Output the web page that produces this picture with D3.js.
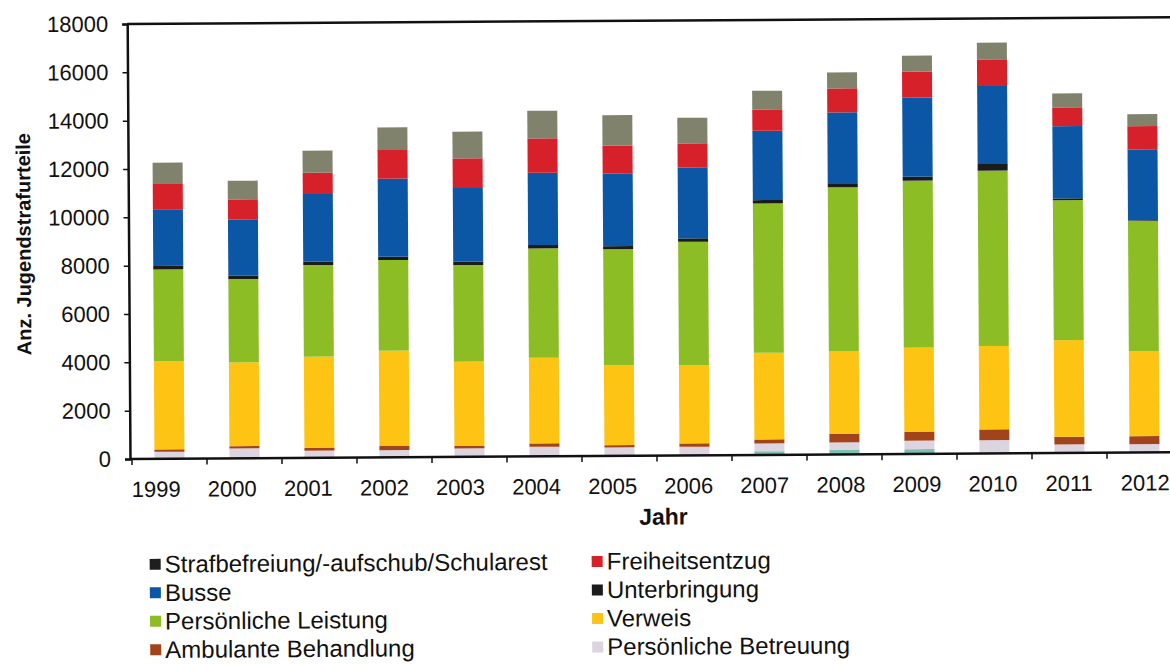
<!DOCTYPE html>
<html>
<head>
<meta charset="utf-8">
<script src="https://cdn.jsdelivr.net/npm/d3@7"></script>
<style>
  body { margin: 0; background: #fff; }
  text { font-family: "Liberation Sans", Arial, sans-serif; fill: #111; }
</style>
</head>
<body>
<script>
const largura = 1170;
const altura = 664;

// dados
const anos = ["1999","2000","2001","2002","2003","2004","2005","2006","2007","2008","2009","2010","2011","2012"];
const weitere      = [0, 0, 0, 0, 0, 0, 0, 0, 150, 200, 200, 0, 0, 0];
const betreuung    = [290, 410, 293, 300, 350, 397, 350, 356, 326, 301, 346, 554, 356, 348];
const ambulant     = [100, 95, 124, 168, 97, 141, 97, 141, 165, 343, 373, 443, 314, 331];
const verweis      = [3655, 3465, 3766, 3943, 3488, 3542, 3310, 3240, 3584, 3435, 3476, 3447, 4002, 3517];
const leistung     = [3795, 3447, 3794, 3753, 4002, 4527, 4800, 5102, 6182, 6774, 6910, 7254, 5793, 5391];
const unterbringung = [137, 137, 137, 137, 136, 137, 125, 141, 137, 136, 166, 277, 70, 30];
const busse        = [2346, 2334, 2801, 3227, 3050, 2991, 3008, 2938, 2867, 2967, 3269, 3228, 2992, 2925];
const freiheit     = [1076, 827, 882, 1188, 1229, 1424, 1142, 993, 886, 993, 1075, 1105, 774, 964];
const strafbefreiung = [852, 770, 910, 939, 1101, 1142, 1270, 1059, 770, 662, 663, 687, 579, 497];

const yTicks = [0, 2000, 4000, 6000, 8000, 10000, 12000, 14000, 16000, 18000];

// ordem de empilhamento (de baixo para cima)
const chaves = ["weitere", "Persönliche Betreuung", "Ambulante Behandlung", "Verweis",
  "Persönliche Leistung", "Unterbringung", "Busse", "Freiheitsentzug",
  "Strafbefreiung/-aufschub/Schularest"];
const series = [weitere, betreuung, ambulant, verweis, leistung, unterbringung, busse, freiheit, strafbefreiung];
const cores = ["#7cc0b0", "#dcd4df", "#a2441b", "#fdc414", "#8dbd25", "#1b1b1b", "#0b57a5", "#d6202a", "#80826c"];

// legenda (ordem em linhas, como no original)
const legendaNomes = ["Strafbefreiung/-aufschub/Schularest", "Freiheitsentzug", "Busse", "Unterbringung",
  "Persönliche Leistung", "Verweis", "Ambulante Behandlung", "Persönliche Betreuung"];
const legendaCores = ["#1e1e1e", "#d6202a", "#0b57a5", "#1b1b1b", "#8dbd25", "#fdc414", "#a2441b", "#dcd4df"];

const tabela = anos.map((a, i) => {
  const linha = { ano: a };
  chaves.forEach((k, j) => linha[k] = series[j][i]);
  return linha;
});

const esquerda = 130, base = 459, topo = 24;

const x = d3.scaleBand().domain(anos).range([132, 1182])
  .paddingInner(0.6).paddingOuter(0.3);
const xRotulo = d3.scalePoint().domain(anos).range([156, 1145]);
const y = d3.scaleLinear().domain([0, 18000]).range([base, topo]);

const svg = d3.select("body").append("svg")
  .attr("width", largura)
  .attr("height", altura);

// a imagem original esta levemente inclinada
const g = svg.append("g").attr("transform", `rotate(-0.37, ${esquerda}, ${base})`);

const pilha = d3.stack().keys(chaves)(tabela);

g.append("g").selectAll("g")
  .data(pilha)
  .join("g")
  .attr("fill", (d, i) => cores[i])
  .selectAll("rect")
  .data(d => d)
  .join("rect")
  .attr("x", d => x(d.data.ano))
  .attr("width", x.bandwidth())
  .attr("y", d => y(d[1]))
  .attr("height", d => y(d[0]) - y(d[1]));

// eixo Y
const eixoY = g.append("g")
  .attr("transform", `translate(${esquerda},0)`)
  .call(d3.axisLeft(y).tickValues(yTicks).tickSize(5).tickPadding(14).tickFormat(d => d));
eixoY.select(".domain").attr("stroke", "#111").attr("stroke-width", 2.5);
eixoY.selectAll(".tick line").attr("stroke", "#111").attr("stroke-width", 1.5);
eixoY.selectAll(".tick text").style("font-size", "22px").attr("fill", "#111");

// linha superior
g.append("line")
  .attr("x1", esquerda).attr("x2", 1182)
  .attr("y1", topo).attr("y2", topo)
  .attr("stroke", "#111").attr("stroke-width", 2.5);

// eixo X
g.append("line")
  .attr("x1", esquerda).attr("x2", 1182)
  .attr("y1", base).attr("y2", base)
  .attr("stroke", "#111").attr("stroke-width", 2.5);

const folga = (x.step() - x.bandwidth()) / 2;
g.append("g").selectAll("line")
  .data(anos)
  .join("line")
  .attr("x1", d => x(d) - folga).attr("x2", d => x(d) - folga)
  .attr("y1", base).attr("y2", base + 6)
  .attr("stroke", "#111").attr("stroke-width", 1.5);

g.append("g").selectAll("text")
  .data(anos)
  .join("text")
  .attr("x", d => xRotulo(d))
  .attr("y", 497)
  .attr("text-anchor", "middle")
  .style("font-size", "22px")
  .text(d => d);

g.append("text")
  .attr("x", 663).attr("y", 528)
  .attr("text-anchor", "middle")
  .style("font-size", "23px").style("font-weight", "bold")
  .text("Jahr");

g.append("text")
  .attr("transform", `translate(32, ${(base + topo) / 2 + 2}) rotate(-90)`)
  .attr("text-anchor", "middle")
  .style("font-size", "20px").style("font-weight", "bold")
  .text("Anz. Jugendstrafurteile");

// legenda
const legenda = g.append("g").selectAll("g")
  .data(legendaNomes)
  .join("g")
  .attr("transform", (d, i) => `translate(${i % 2 === 0 ? 149 : 591}, ${564 + Math.floor(i / 2) * 28.5})`);

legenda.append("rect")
  .attr("x", 0).attr("y", -5)
  .attr("width", 11).attr("height", 11)
  .attr("fill", (d, i) => legendaCores[i]);

legenda.append("text")
  .attr("x", 15).attr("y", 0)
  .attr("dy", "0.36em")
  .style("font-size", "24px")
  .text(d => d);
</script>
</body>
</html>
